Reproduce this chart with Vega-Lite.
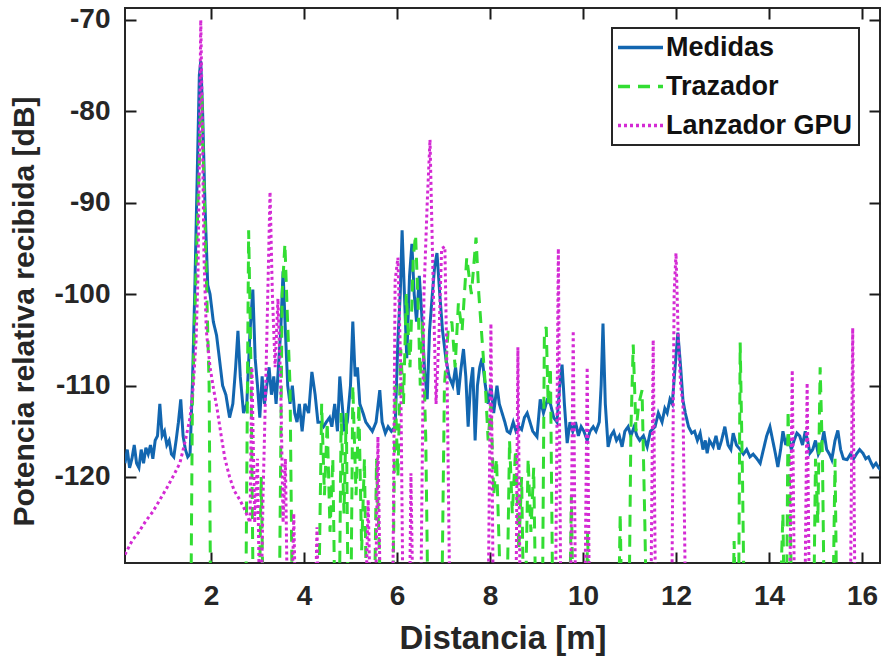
{
"$schema":"https://vega.github.io/schema/vega-lite/v6.json",
"width":755,"height":555,
"autosize":{"type":"none"},
"padding":{"left":125,"top":8,"right":2,"bottom":97},
"background":"white",
"config":{
 "view":{"stroke":"#262626","strokeWidth":2},
 "font":"Liberation Sans",
 "axis":{"labelFont":"Liberation Sans","labelFontSize":28,"labelFontWeight":"bold","labelColor":"#262626","titleFont":"Liberation Sans","titleFontWeight":"bold","titleColor":"#262626","grid":false,"domain":false},
 "legend":{"orient":"none","legendX":487,"legendY":20,"title":null,"fillColor":"white","strokeColor":"#262626","strokeWidth":2,"padding":6,"labelFont":"Liberation Sans","labelFontSize":27,"labelFontWeight":"bold","labelColor":"#111","symbolType":"M-3,0L7,0","symbolSize":81,"symbolStrokeWidth":3.5,"labelOffset":21,"rowPadding":11,"labelLimit":400}
},
"data":{"values":[
{"serie":"Medidas","d":0.15,"p":-118.5},{"serie":"Medidas","d":0.2,"p":-117},{"serie":"Medidas","d":0.25,"p":-119},{"serie":"Medidas","d":0.3,"p":-118},{"serie":"Medidas","d":0.35,"p":-116.5},{"serie":"Medidas","d":0.4,"p":-118.5},{"serie":"Medidas","d":0.45,"p":-119},{"serie":"Medidas","d":0.5,"p":-117},{"serie":"Medidas","d":0.55,"p":-118.5},{"serie":"Medidas","d":0.6,"p":-116.8},{"serie":"Medidas","d":0.65,"p":-117.5},{"serie":"Medidas","d":0.7,"p":-116.5},{"serie":"Medidas","d":0.75,"p":-118},{"serie":"Medidas","d":0.8,"p":-116},{"serie":"Medidas","d":0.85,"p":-115.5},{"serie":"Medidas","d":0.9,"p":-112},{"serie":"Medidas","d":0.95,"p":-115.5},{"serie":"Medidas","d":1.0,"p":-115},{"serie":"Medidas","d":1.05,"p":-116.5},{"serie":"Medidas","d":1.1,"p":-116},{"serie":"Medidas","d":1.15,"p":-117.5},{"serie":"Medidas","d":1.2,"p":-117.8},{"serie":"Medidas","d":1.25,"p":-116},{"serie":"Medidas","d":1.3,"p":-114},{"serie":"Medidas","d":1.35,"p":-111.5},{"serie":"Medidas","d":1.4,"p":-115.5},{"serie":"Medidas","d":1.45,"p":-117},{"serie":"Medidas","d":1.5,"p":-117.8},{"serie":"Medidas","d":1.55,"p":-117.5},{"serie":"Medidas","d":1.6,"p":-110},{"serie":"Medidas","d":1.65,"p":-100},{"serie":"Medidas","d":1.7,"p":-88},{"serie":"Medidas","d":1.75,"p":-76},{"serie":"Medidas","d":1.78,"p":-74.5},{"serie":"Medidas","d":1.82,"p":-80},{"serie":"Medidas","d":1.87,"p":-90},{"serie":"Medidas","d":1.93,"p":-99},{"serie":"Medidas","d":1.98,"p":-100},{"serie":"Medidas","d":2.05,"p":-103},{"serie":"Medidas","d":2.12,"p":-104.5},{"serie":"Medidas","d":2.18,"p":-107},{"serie":"Medidas","d":2.25,"p":-110},{"serie":"Medidas","d":2.32,"p":-111},{"serie":"Medidas","d":2.4,"p":-113.5},{"serie":"Medidas","d":2.47,"p":-112},{"serie":"Medidas","d":2.53,"p":-108},{"serie":"Medidas","d":2.58,"p":-104},{"serie":"Medidas","d":2.63,"p":-109},{"serie":"Medidas","d":2.7,"p":-113},{"serie":"Medidas","d":2.77,"p":-112},{"serie":"Medidas","d":2.84,"p":-104},{"serie":"Medidas","d":2.9,"p":-99.5},{"serie":"Medidas","d":2.95,"p":-107},{"serie":"Medidas","d":3.0,"p":-110},{"serie":"Medidas","d":3.05,"p":-113.5},{"serie":"Medidas","d":3.1,"p":-109},{"serie":"Medidas","d":3.15,"p":-112},{"serie":"Medidas","d":3.2,"p":-110},{"serie":"Medidas","d":3.25,"p":-108},{"serie":"Medidas","d":3.3,"p":-111},{"serie":"Medidas","d":3.35,"p":-109},{"serie":"Medidas","d":3.4,"p":-112},{"serie":"Medidas","d":3.45,"p":-108},{"serie":"Medidas","d":3.5,"p":-104},{"serie":"Medidas","d":3.55,"p":-97.5},{"serie":"Medidas","d":3.6,"p":-104},{"serie":"Medidas","d":3.65,"p":-110},{"serie":"Medidas","d":3.7,"p":-112},{"serie":"Medidas","d":3.75,"p":-110},{"serie":"Medidas","d":3.8,"p":-113},{"serie":"Medidas","d":3.85,"p":-114},{"serie":"Medidas","d":3.9,"p":-112},{"serie":"Medidas","d":3.96,"p":-115},{"serie":"Medidas","d":4.02,"p":-112},{"serie":"Medidas","d":4.1,"p":-113},{"serie":"Medidas","d":4.17,"p":-108.5},{"serie":"Medidas","d":4.24,"p":-111},{"serie":"Medidas","d":4.3,"p":-114},{"serie":"Medidas","d":4.36,"p":-114},{"serie":"Medidas","d":4.42,"p":-114.5},{"serie":"Medidas","d":4.48,"p":-114},{"serie":"Medidas","d":4.55,"p":-113.5},{"serie":"Medidas","d":4.6,"p":-114.5},{"serie":"Medidas","d":4.66,"p":-112},{"serie":"Medidas","d":4.72,"p":-115},{"serie":"Medidas","d":4.77,"p":-109},{"serie":"Medidas","d":4.82,"p":-112},{"serie":"Medidas","d":4.87,"p":-115},{"serie":"Medidas","d":4.93,"p":-114},{"serie":"Medidas","d":5.0,"p":-110},{"serie":"Medidas","d":5.05,"p":-103},{"serie":"Medidas","d":5.1,"p":-109},{"serie":"Medidas","d":5.15,"p":-108},{"serie":"Medidas","d":5.2,"p":-112},{"serie":"Medidas","d":5.27,"p":-113},{"serie":"Medidas","d":5.33,"p":-114},{"serie":"Medidas","d":5.4,"p":-114.5},{"serie":"Medidas","d":5.47,"p":-115},{"serie":"Medidas","d":5.55,"p":-114},{"serie":"Medidas","d":5.63,"p":-110.5},{"serie":"Medidas","d":5.68,"p":-114},{"serie":"Medidas","d":5.75,"p":-115.2},{"serie":"Medidas","d":5.81,"p":-114.5},{"serie":"Medidas","d":5.88,"p":-115},{"serie":"Medidas","d":5.96,"p":-114.5},{"serie":"Medidas","d":6.02,"p":-105},{"serie":"Medidas","d":6.07,"p":-100},{"serie":"Medidas","d":6.11,"p":-93},{"serie":"Medidas","d":6.16,"p":-100},{"serie":"Medidas","d":6.21,"p":-107},{"serie":"Medidas","d":6.27,"p":-98},{"serie":"Medidas","d":6.32,"p":-94.5},{"serie":"Medidas","d":6.37,"p":-100},{"serie":"Medidas","d":6.42,"p":-103},{"serie":"Medidas","d":6.48,"p":-98},{"serie":"Medidas","d":6.53,"p":-102},{"serie":"Medidas","d":6.59,"p":-108},{"serie":"Medidas","d":6.65,"p":-111.5},{"serie":"Medidas","d":6.7,"p":-104},{"serie":"Medidas","d":6.76,"p":-100},{"serie":"Medidas","d":6.81,"p":-97},{"serie":"Medidas","d":6.86,"p":-95.5},{"serie":"Medidas","d":6.92,"p":-100},{"serie":"Medidas","d":6.98,"p":-104},{"serie":"Medidas","d":7.05,"p":-107},{"serie":"Medidas","d":7.12,"p":-109},{"serie":"Medidas","d":7.2,"p":-110},{"serie":"Medidas","d":7.26,"p":-108},{"serie":"Medidas","d":7.32,"p":-111},{"serie":"Medidas","d":7.38,"p":-108},{"serie":"Medidas","d":7.43,"p":-106},{"serie":"Medidas","d":7.48,"p":-109},{"serie":"Medidas","d":7.53,"p":-114.5},{"serie":"Medidas","d":7.58,"p":-110},{"serie":"Medidas","d":7.63,"p":-108},{"serie":"Medidas","d":7.68,"p":-116},{"serie":"Medidas","d":7.73,"p":-110},{"serie":"Medidas","d":7.78,"p":-108},{"serie":"Medidas","d":7.83,"p":-107},{"serie":"Medidas","d":7.9,"p":-110},{"serie":"Medidas","d":7.96,"p":-112},{"serie":"Medidas","d":8.02,"p":-110},{"serie":"Medidas","d":8.08,"p":-113},{"serie":"Medidas","d":8.15,"p":-110},{"serie":"Medidas","d":8.2,"p":-112},{"serie":"Medidas","d":8.26,"p":-113},{"serie":"Medidas","d":8.32,"p":-114},{"serie":"Medidas","d":8.37,"p":-115},{"serie":"Medidas","d":8.43,"p":-115.2},{"serie":"Medidas","d":8.5,"p":-114},{"serie":"Medidas","d":8.56,"p":-115},{"serie":"Medidas","d":8.62,"p":-114.5},{"serie":"Medidas","d":8.68,"p":-114.8},{"serie":"Medidas","d":8.74,"p":-113.5},{"serie":"Medidas","d":8.8,"p":-113},{"serie":"Medidas","d":8.86,"p":-114},{"serie":"Medidas","d":8.92,"p":-115},{"serie":"Medidas","d":9.01,"p":-115.6},{"serie":"Medidas","d":9.08,"p":-111.5},{"serie":"Medidas","d":9.15,"p":-113},{"serie":"Medidas","d":9.23,"p":-111.6},{"serie":"Medidas","d":9.3,"p":-112},{"serie":"Medidas","d":9.37,"p":-113.5},{"serie":"Medidas","d":9.44,"p":-114},{"serie":"Medidas","d":9.5,"p":-110},{"serie":"Medidas","d":9.55,"p":-107.7},{"serie":"Medidas","d":9.6,"p":-112},{"serie":"Medidas","d":9.66,"p":-116.3},{"serie":"Medidas","d":9.72,"p":-114},{"serie":"Medidas","d":9.78,"p":-115},{"serie":"Medidas","d":9.84,"p":-114},{"serie":"Medidas","d":9.9,"p":-115.5},{"serie":"Medidas","d":9.96,"p":-114.5},{"serie":"Medidas","d":10.02,"p":-115},{"serie":"Medidas","d":10.09,"p":-116},{"serie":"Medidas","d":10.15,"p":-115},{"serie":"Medidas","d":10.22,"p":-114.5},{"serie":"Medidas","d":10.28,"p":-115},{"serie":"Medidas","d":10.35,"p":-114},{"serie":"Medidas","d":10.39,"p":-110},{"serie":"Medidas","d":10.43,"p":-103.2},{"serie":"Medidas","d":10.48,"p":-112},{"serie":"Medidas","d":10.54,"p":-116.7},{"serie":"Medidas","d":10.6,"p":-115.5},{"serie":"Medidas","d":10.66,"p":-115},{"serie":"Medidas","d":10.72,"p":-116},{"serie":"Medidas","d":10.78,"p":-115.5},{"serie":"Medidas","d":10.84,"p":-116.7},{"serie":"Medidas","d":10.9,"p":-115},{"serie":"Medidas","d":10.97,"p":-114.5},{"serie":"Medidas","d":11.03,"p":-115.5},{"serie":"Medidas","d":11.1,"p":-114.5},{"serie":"Medidas","d":11.16,"p":-115.5},{"serie":"Medidas","d":11.22,"p":-116},{"serie":"Medidas","d":11.3,"p":-115.5},{"serie":"Medidas","d":11.38,"p":-116.7},{"serie":"Medidas","d":11.45,"p":-115},{"serie":"Medidas","d":11.55,"p":-114.5},{"serie":"Medidas","d":11.62,"p":-113},{"serie":"Medidas","d":11.7,"p":-114},{"serie":"Medidas","d":11.76,"p":-112.5},{"serie":"Medidas","d":11.81,"p":-113},{"serie":"Medidas","d":11.87,"p":-111.5},{"serie":"Medidas","d":11.92,"p":-112},{"serie":"Medidas","d":11.98,"p":-108},{"serie":"Medidas","d":12.04,"p":-104.2},{"serie":"Medidas","d":12.1,"p":-108},{"serie":"Medidas","d":12.15,"p":-111.6},{"serie":"Medidas","d":12.2,"p":-113},{"serie":"Medidas","d":12.27,"p":-114.5},{"serie":"Medidas","d":12.34,"p":-115.2},{"serie":"Medidas","d":12.4,"p":-115},{"serie":"Medidas","d":12.46,"p":-116},{"serie":"Medidas","d":12.52,"p":-115.2},{"serie":"Medidas","d":12.58,"p":-117},{"serie":"Medidas","d":12.63,"p":-116},{"serie":"Medidas","d":12.67,"p":-117.4},{"serie":"Medidas","d":12.72,"p":-116},{"serie":"Medidas","d":12.8,"p":-116.7},{"serie":"Medidas","d":12.86,"p":-115.5},{"serie":"Medidas","d":12.92,"p":-117},{"serie":"Medidas","d":12.98,"p":-116},{"serie":"Medidas","d":13.05,"p":-114.5},{"serie":"Medidas","d":13.12,"p":-116.5},{"serie":"Medidas","d":13.18,"p":-117},{"serie":"Medidas","d":13.23,"p":-115.2},{"serie":"Medidas","d":13.3,"p":-116.5},{"serie":"Medidas","d":13.38,"p":-117},{"serie":"Medidas","d":13.45,"p":-117.5},{"serie":"Medidas","d":13.52,"p":-117},{"serie":"Medidas","d":13.59,"p":-117.8},{"serie":"Medidas","d":13.66,"p":-117.5},{"serie":"Medidas","d":13.74,"p":-118},{"serie":"Medidas","d":13.81,"p":-118.5},{"serie":"Medidas","d":13.88,"p":-117},{"serie":"Medidas","d":13.95,"p":-115.5},{"serie":"Medidas","d":14.02,"p":-114.5},{"serie":"Medidas","d":14.08,"p":-116},{"serie":"Medidas","d":14.14,"p":-117.5},{"serie":"Medidas","d":14.19,"p":-118.9},{"serie":"Medidas","d":14.25,"p":-117},{"serie":"Medidas","d":14.3,"p":-115},{"serie":"Medidas","d":14.36,"p":-116.5},{"serie":"Medidas","d":14.42,"p":-115.5},{"serie":"Medidas","d":14.48,"p":-117},{"serie":"Medidas","d":14.54,"p":-116},{"serie":"Medidas","d":14.6,"p":-115.2},{"serie":"Medidas","d":14.66,"p":-115.5},{"serie":"Medidas","d":14.72,"p":-116.5},{"serie":"Medidas","d":14.78,"p":-115},{"serie":"Medidas","d":14.83,"p":-116},{"serie":"Medidas","d":14.88,"p":-117.4},{"serie":"Medidas","d":14.94,"p":-117},{"serie":"Medidas","d":15.0,"p":-116},{"serie":"Medidas","d":15.06,"p":-117.5},{"serie":"Medidas","d":15.12,"p":-116.8},{"serie":"Medidas","d":15.18,"p":-115},{"serie":"Medidas","d":15.24,"p":-117},{"serie":"Medidas","d":15.3,"p":-117.5},{"serie":"Medidas","d":15.35,"p":-118.1},{"serie":"Medidas","d":15.42,"p":-116},{"serie":"Medidas","d":15.48,"p":-114.9},{"serie":"Medidas","d":15.54,"p":-117},{"serie":"Medidas","d":15.6,"p":-118},{"serie":"Medidas","d":15.68,"p":-118.1},{"serie":"Medidas","d":15.75,"p":-117.5},{"serie":"Medidas","d":15.82,"p":-118},{"serie":"Medidas","d":15.88,"p":-117.5},{"serie":"Medidas","d":15.95,"p":-117},{"serie":"Medidas","d":16.02,"p":-117.4},{"serie":"Medidas","d":16.08,"p":-118},{"serie":"Medidas","d":16.14,"p":-117.8},{"serie":"Medidas","d":16.2,"p":-118.5},{"serie":"Medidas","d":16.24,"p":-118.9},{"serie":"Medidas","d":16.3,"p":-118.5},{"serie":"Medidas","d":16.36,"p":-119},{"serie":"Medidas","d":16.4,"p":-119.2},

{"serie":"Trazador","d":0.15,"p":-140},{"serie":"Trazador","d":1.56,"p":-140},{"serie":"Trazador","d":1.6,"p":-112},{"serie":"Trazador","d":1.72,"p":-90},{"serie":"Trazador","d":1.8,"p":-78},{"serie":"Trazador","d":1.86,"p":-90},{"serie":"Trazador","d":1.96,"p":-110},{"serie":"Trazador","d":2.0,"p":-140},{"serie":"Trazador","d":2.74,"p":-140},{"serie":"Trazador","d":2.81,"p":-93},{"serie":"Trazador","d":2.86,"p":-108},{"serie":"Trazador","d":2.92,"p":-140},{"serie":"Trazador","d":3.02,"p":-140},{"serie":"Trazador","d":3.08,"p":-120},{"serie":"Trazador","d":3.14,"p":-140},{"serie":"Trazador","d":3.46,"p":-140},{"serie":"Trazador","d":3.53,"p":-100},{"serie":"Trazador","d":3.59,"p":-94.5},{"serie":"Trazador","d":3.64,"p":-102},{"serie":"Trazador","d":3.7,"p":-110},{"serie":"Trazador","d":3.76,"p":-140},{"serie":"Trazador","d":4.3,"p":-140},{"serie":"Trazador","d":4.38,"p":-112},{"serie":"Trazador","d":4.44,"p":-122},{"serie":"Trazador","d":4.5,"p":-114},{"serie":"Trazador","d":4.56,"p":-126},{"serie":"Trazador","d":4.62,"p":-118},{"serie":"Trazador","d":4.68,"p":-140},{"serie":"Trazador","d":4.75,"p":-140},{"serie":"Trazador","d":4.8,"p":-113},{"serie":"Trazador","d":4.86,"p":-124},{"serie":"Trazador","d":4.91,"p":-113},{"serie":"Trazador","d":4.96,"p":-140},{"serie":"Trazador","d":5.0,"p":-140},{"serie":"Trazador","d":5.05,"p":-110},{"serie":"Trazador","d":5.12,"p":-122},{"serie":"Trazador","d":5.18,"p":-112},{"serie":"Trazador","d":5.24,"p":-128},{"serie":"Trazador","d":5.3,"p":-118},{"serie":"Trazador","d":5.36,"p":-140},{"serie":"Trazador","d":5.5,"p":-140},{"serie":"Trazador","d":5.56,"p":-118},{"serie":"Trazador","d":5.62,"p":-128},{"serie":"Trazador","d":5.68,"p":-140},{"serie":"Trazador","d":5.9,"p":-140},{"serie":"Trazador","d":5.96,"p":-110},{"serie":"Trazador","d":6.02,"p":-120},{"serie":"Trazador","d":6.08,"p":-106},{"serie":"Trazador","d":6.14,"p":-112},{"serie":"Trazador","d":6.2,"p":-100},{"serie":"Trazador","d":6.28,"p":-108},{"serie":"Trazador","d":6.35,"p":-96},{"serie":"Trazador","d":6.4,"p":-93.5},{"serie":"Trazador","d":6.46,"p":-102},{"serie":"Trazador","d":6.5,"p":-110},{"serie":"Trazador","d":6.55,"p":-103},{"serie":"Trazador","d":6.62,"p":-116},{"serie":"Trazador","d":6.68,"p":-140},{"serie":"Trazador","d":6.95,"p":-140},{"serie":"Trazador","d":7.02,"p":-110},{"serie":"Trazador","d":7.1,"p":-104},{"serie":"Trazador","d":7.18,"p":-103},{"serie":"Trazador","d":7.25,"p":-108},{"serie":"Trazador","d":7.32,"p":-101},{"serie":"Trazador","d":7.4,"p":-104},{"serie":"Trazador","d":7.5,"p":-96},{"serie":"Trazador","d":7.6,"p":-100},{"serie":"Trazador","d":7.7,"p":-93.8},{"serie":"Trazador","d":7.76,"p":-100},{"serie":"Trazador","d":7.83,"p":-105},{"serie":"Trazador","d":7.9,"p":-110},{"serie":"Trazador","d":7.96,"p":-116},{"serie":"Trazador","d":8.02,"p":-112},{"serie":"Trazador","d":8.08,"p":-122},{"serie":"Trazador","d":8.14,"p":-118},{"serie":"Trazador","d":8.2,"p":-128},{"serie":"Trazador","d":8.26,"p":-140},{"serie":"Trazador","d":8.35,"p":-140},{"serie":"Trazador","d":8.42,"p":-116},{"serie":"Trazador","d":8.48,"p":-124},{"serie":"Trazador","d":8.55,"p":-117},{"serie":"Trazador","d":8.62,"p":-128},{"serie":"Trazador","d":8.68,"p":-120},{"serie":"Trazador","d":8.74,"p":-140},{"serie":"Trazador","d":8.82,"p":-118},{"serie":"Trazador","d":8.88,"p":-126},{"serie":"Trazador","d":8.94,"p":-119},{"serie":"Trazador","d":9.0,"p":-140},{"serie":"Trazador","d":9.12,"p":-140},{"serie":"Trazador","d":9.17,"p":-104},{"serie":"Trazador","d":9.21,"p":-103.6},{"serie":"Trazador","d":9.25,"p":-112},{"serie":"Trazador","d":9.3,"p":-108},{"serie":"Trazador","d":9.36,"p":-140},{"serie":"Trazador","d":9.7,"p":-140},{"serie":"Trazador","d":9.75,"p":-122},{"serie":"Trazador","d":9.8,"p":-140},{"serie":"Trazador","d":10.05,"p":-140},{"serie":"Trazador","d":10.1,"p":-126},{"serie":"Trazador","d":10.15,"p":-140},{"serie":"Trazador","d":10.75,"p":-140},{"serie":"Trazador","d":10.8,"p":-124},{"serie":"Trazador","d":10.85,"p":-140},{"serie":"Trazador","d":10.98,"p":-140},{"serie":"Trazador","d":11.03,"p":-115},{"serie":"Trazador","d":11.08,"p":-105.5},{"serie":"Trazador","d":11.14,"p":-115},{"serie":"Trazador","d":11.2,"p":-112},{"serie":"Trazador","d":11.27,"p":-110.5},{"serie":"Trazador","d":11.33,"p":-125},{"serie":"Trazador","d":11.38,"p":-140},{"serie":"Trazador","d":13.2,"p":-140},{"serie":"Trazador","d":13.25,"p":-127},{"serie":"Trazador","d":13.3,"p":-140},{"serie":"Trazador","d":13.34,"p":-140},{"serie":"Trazador","d":13.38,"p":-105.3},{"serie":"Trazador","d":13.43,"p":-120},{"serie":"Trazador","d":13.48,"p":-140},{"serie":"Trazador","d":14.2,"p":-140},{"serie":"Trazador","d":14.3,"p":-124},{"serie":"Trazador","d":14.34,"p":-140},{"serie":"Trazador","d":14.37,"p":-140},{"serie":"Trazador","d":14.41,"p":-112.7},{"serie":"Trazador","d":14.46,"p":-125},{"serie":"Trazador","d":14.5,"p":-140},{"serie":"Trazador","d":14.95,"p":-140},{"serie":"Trazador","d":15.0,"p":-118},{"serie":"Trazador","d":15.05,"p":-125},{"serie":"Trazador","d":15.1,"p":-108},{"serie":"Trazador","d":15.15,"p":-118},{"serie":"Trazador","d":15.2,"p":-140},{"serie":"Trazador","d":15.36,"p":-140},{"serie":"Trazador","d":15.42,"p":-118},{"serie":"Trazador","d":15.47,"p":-140},{"serie":"Trazador","d":16.4,"p":-140},

{"serie":"Lanzador GPU","d":0.15,"p":-128.5},{"serie":"Lanzador GPU","d":0.3,"p":-127},{"serie":"Lanzador GPU","d":0.45,"p":-126},{"serie":"Lanzador GPU","d":0.6,"p":-124.8},{"serie":"Lanzador GPU","d":0.75,"p":-123.8},{"serie":"Lanzador GPU","d":0.9,"p":-122.5},{"serie":"Lanzador GPU","d":1.05,"p":-121.2},{"serie":"Lanzador GPU","d":1.2,"p":-119.8},{"serie":"Lanzador GPU","d":1.33,"p":-118.5},{"serie":"Lanzador GPU","d":1.45,"p":-116},{"serie":"Lanzador GPU","d":1.55,"p":-113.5},{"serie":"Lanzador GPU","d":1.62,"p":-110},{"serie":"Lanzador GPU","d":1.68,"p":-105},{"serie":"Lanzador GPU","d":1.72,"p":-98},{"serie":"Lanzador GPU","d":1.75,"p":-85},{"serie":"Lanzador GPU","d":1.78,"p":-70},{"serie":"Lanzador GPU","d":1.81,"p":-80},{"serie":"Lanzador GPU","d":1.85,"p":-96},{"serie":"Lanzador GPU","d":1.9,"p":-104},{"serie":"Lanzador GPU","d":1.98,"p":-108},{"serie":"Lanzador GPU","d":2.06,"p":-110.5},{"serie":"Lanzador GPU","d":2.13,"p":-112.5},{"serie":"Lanzador GPU","d":2.22,"p":-115.5},{"serie":"Lanzador GPU","d":2.3,"p":-118},{"serie":"Lanzador GPU","d":2.4,"p":-120},{"serie":"Lanzador GPU","d":2.5,"p":-121.5},{"serie":"Lanzador GPU","d":2.62,"p":-122.5},{"serie":"Lanzador GPU","d":2.72,"p":-123.5},{"serie":"Lanzador GPU","d":2.84,"p":-125},{"serie":"Lanzador GPU","d":2.88,"p":-108},{"serie":"Lanzador GPU","d":2.94,"p":-125},{"serie":"Lanzador GPU","d":3.0,"p":-118},{"serie":"Lanzador GPU","d":3.06,"p":-140},{"serie":"Lanzador GPU","d":3.12,"p":-122},{"serie":"Lanzador GPU","d":3.2,"p":-105},{"serie":"Lanzador GPU","d":3.27,"p":-88.8},{"serie":"Lanzador GPU","d":3.32,"p":-100},{"serie":"Lanzador GPU","d":3.38,"p":-108},{"serie":"Lanzador GPU","d":3.44,"p":-100.5},{"serie":"Lanzador GPU","d":3.5,"p":-110},{"serie":"Lanzador GPU","d":3.55,"p":-125},{"serie":"Lanzador GPU","d":3.6,"p":-118},{"serie":"Lanzador GPU","d":3.66,"p":-140},{"serie":"Lanzador GPU","d":3.72,"p":-140},{"serie":"Lanzador GPU","d":3.78,"p":-124},{"serie":"Lanzador GPU","d":3.84,"p":-140},{"serie":"Lanzador GPU","d":4.22,"p":-140},{"serie":"Lanzador GPU","d":4.28,"p":-125.5},{"serie":"Lanzador GPU","d":4.33,"p":-140},{"serie":"Lanzador GPU","d":5.3,"p":-140},{"serie":"Lanzador GPU","d":5.38,"p":-122.5},{"serie":"Lanzador GPU","d":5.45,"p":-140},{"serie":"Lanzador GPU","d":5.52,"p":-140},{"serie":"Lanzador GPU","d":5.59,"p":-115.6},{"serie":"Lanzador GPU","d":5.66,"p":-140},{"serie":"Lanzador GPU","d":5.9,"p":-140},{"serie":"Lanzador GPU","d":5.96,"p":-98.5},{"serie":"Lanzador GPU","d":6.02,"p":-96},{"serie":"Lanzador GPU","d":6.08,"p":-108},{"serie":"Lanzador GPU","d":6.14,"p":-140},{"serie":"Lanzador GPU","d":6.26,"p":-140},{"serie":"Lanzador GPU","d":6.3,"p":-119.6},{"serie":"Lanzador GPU","d":6.36,"p":-140},{"serie":"Lanzador GPU","d":6.5,"p":-140},{"serie":"Lanzador GPU","d":6.58,"p":-100},{"serie":"Lanzador GPU","d":6.65,"p":-90},{"serie":"Lanzador GPU","d":6.71,"p":-83.1},{"serie":"Lanzador GPU","d":6.77,"p":-97},{"serie":"Lanzador GPU","d":6.84,"p":-112},{"serie":"Lanzador GPU","d":6.9,"p":-105},{"serie":"Lanzador GPU","d":6.96,"p":-95},{"serie":"Lanzador GPU","d":7.03,"p":-94.8},{"serie":"Lanzador GPU","d":7.08,"p":-110},{"serie":"Lanzador GPU","d":7.15,"p":-140},{"serie":"Lanzador GPU","d":7.95,"p":-140},{"serie":"Lanzador GPU","d":8.02,"p":-103.2},{"serie":"Lanzador GPU","d":8.08,"p":-140},{"serie":"Lanzador GPU","d":8.55,"p":-140},{"serie":"Lanzador GPU","d":8.6,"p":-105.8},{"serie":"Lanzador GPU","d":8.66,"p":-140},{"serie":"Lanzador GPU","d":9.4,"p":-140},{"serie":"Lanzador GPU","d":9.47,"p":-95},{"serie":"Lanzador GPU","d":9.53,"p":-140},{"serie":"Lanzador GPU","d":9.72,"p":-140},{"serie":"Lanzador GPU","d":9.79,"p":-104},{"serie":"Lanzador GPU","d":9.85,"p":-140},{"serie":"Lanzador GPU","d":10.03,"p":-140},{"serie":"Lanzador GPU","d":10.09,"p":-108},{"serie":"Lanzador GPU","d":10.15,"p":-140},{"serie":"Lanzador GPU","d":11.45,"p":-140},{"serie":"Lanzador GPU","d":11.51,"p":-105},{"serie":"Lanzador GPU","d":11.57,"p":-140},{"serie":"Lanzador GPU","d":11.9,"p":-140},{"serie":"Lanzador GPU","d":11.96,"p":-100},{"serie":"Lanzador GPU","d":12.0,"p":-95.5},{"serie":"Lanzador GPU","d":12.05,"p":-105},{"serie":"Lanzador GPU","d":12.1,"p":-110},{"serie":"Lanzador GPU","d":12.15,"p":-112},{"serie":"Lanzador GPU","d":12.22,"p":-140},{"serie":"Lanzador GPU","d":14.43,"p":-140},{"serie":"Lanzador GPU","d":14.5,"p":-108.3},{"serie":"Lanzador GPU","d":14.56,"p":-140},{"serie":"Lanzador GPU","d":14.76,"p":-140},{"serie":"Lanzador GPU","d":14.82,"p":-109.7},{"serie":"Lanzador GPU","d":14.88,"p":-140},{"serie":"Lanzador GPU","d":15.74,"p":-140},{"serie":"Lanzador GPU","d":15.8,"p":-103.7},{"serie":"Lanzador GPU","d":15.86,"p":-140},{"serie":"Lanzador GPU","d":16.4,"p":-140}
]},
"encoding":{
 "x":{"field":"d","type":"quantitative","scale":{"domain":[0.151,16.387],"nice":false,"zero":false}},
 "y":{"field":"p","type":"quantitative","scale":{"domain":[-129.41,-68.69],"nice":false,"zero":false}},
 "color":{"field":"serie","type":"nominal","scale":{"domain":["Medidas","Trazador","Lanzador GPU"],"range":["#1266b0","#33dd33","#d42ad4"]}},
 "strokeDash":{"field":"serie","type":"nominal","scale":{"domain":["Medidas","Trazador","Lanzador GPU"],"range":[[1,0],[12,8],[3,3]]}}
},
"layer":[
 {"transform":[{"filter":"datum.serie==='Medidas'"}],"mark":{"type":"line","clip":true,"strokeWidth":3},
  "encoding":{"x":{"field":"d","type":"quantitative","axis":{"values":[2,4,6,8,10,12,14,16],"ticks":true,"tickSize":-11,"tickColor":"#1a1a1a","tickWidth":2,"title":"Distancia [m]","titleFontSize":33,"labelPadding":30,"titleY":59,"labelExpr":"toString(datum.value)"}},
   "y":{"field":"p","type":"quantitative","axis":{"values":[-120,-110,-100,-90,-80,-70],"ticks":true,"tickSize":-11,"tickColor":"#1a1a1a","tickWidth":2,"title":"Potencia relativa recibida [dB]","titleFontSize":30,"labelPadding":26,"titleX":-86,"titleY":303,"labelExpr":"toString(datum.value)"}}}},
 {"transform":[{"filter":"datum.serie==='Trazador'"}],"mark":{"type":"line","clip":true,"strokeWidth":3},
  "encoding":{"x":{"field":"d","type":"quantitative","axis":null},"y":{"field":"p","type":"quantitative","axis":null}}},
 {"transform":[{"filter":"datum.serie==='Lanzador GPU'"}],"mark":{"type":"line","clip":true,"strokeWidth":3},
  "encoding":{"x":{"field":"d","type":"quantitative","axis":null},"y":{"field":"p","type":"quantitative","axis":null}}},
 {"transform":[{"filter":"datum.serie==='Medidas'"}],"mark":{"type":"line","opacity":0},
  "encoding":{"x":{"field":"d","type":"quantitative","axis":{"orient":"top","values":[2,4,6,8,10,12,14,16],"labels":false,"title":null,"tickSize":-11,"tickColor":"#1a1a1a","tickWidth":2}},
   "y":{"field":"p","type":"quantitative","axis":{"orient":"right","values":[-120,-110,-100,-90,-80,-70],"labels":false,"title":null,"tickSize":-11,"tickColor":"#1a1a1a","tickWidth":2}}}}
],
"resolve":{"axis":{"x":"independent","y":"independent"}}
}
